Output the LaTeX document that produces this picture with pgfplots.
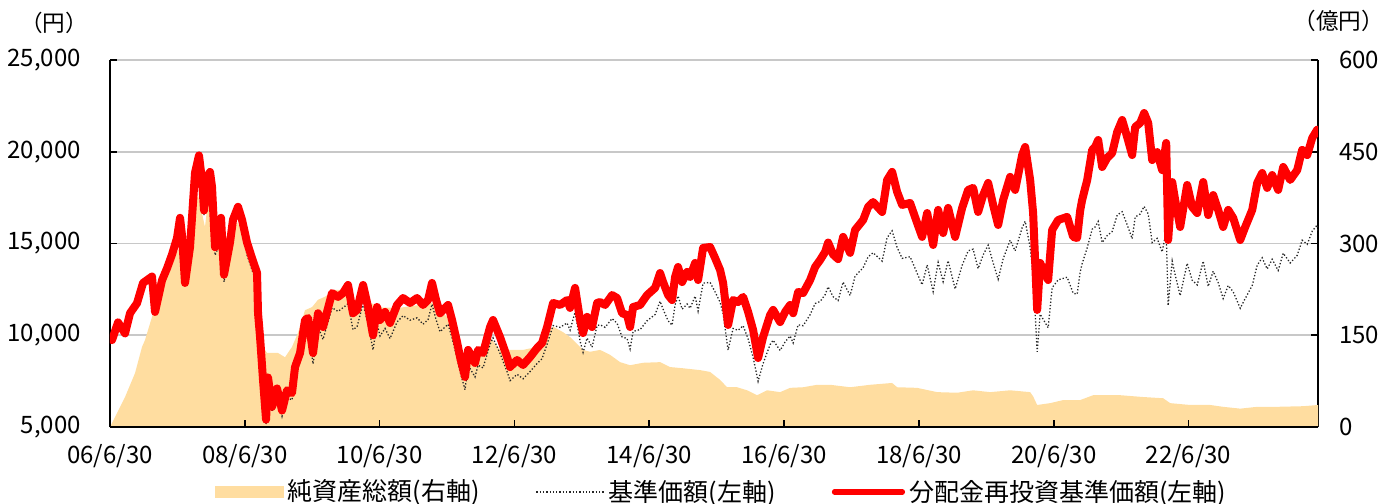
\documentclass[border=0pt]{standalone}
\usepackage{fontspec}
\setmainfont{Noto Sans CJK JP}
\usepackage{pgfplots}
\usepackage{pgfplotstable}
\pgfplotsset{compat=1.18}
\definecolor{navfill}{RGB}{255,221,160}
\definecolor{navred}{RGB}{255,0,0}
\definecolor{gridgray}{RGB}{200,200,200}

\pgfplotstableread{
x red base
2006.500 10000 10000
2006.530 9740 9740
2006.619 10700 10700
2006.723 10100 10100
2006.797 11200 11200
2006.901 11750 11750
2006.990 12850 12850
2007.123 13200 13130
2007.168 11270 11210
2007.272 13000 12940
2007.346 13650 13580
2007.420 14400 14330
2007.494 15300 15220
2007.539 16400 16150
2007.568 15450 15220
2007.613 12850 12660
2007.687 14800 14580
2007.731 17200 16940
2007.761 18850 18570
2007.820 19800 19500
2007.865 18450 18170
2007.895 16800 16550
2007.939 18600 18320
2007.984 18900 18620
2008.013 18100 17560
2008.058 14800 14360
2008.102 15200 14740
2008.147 16400 15910
2008.191 13300 12900
2008.280 15050 14600
2008.325 16300 15810
2008.399 17000 16490
2008.458 16300 15810
2008.533 15050 14370
2008.607 14200 13560
2008.681 13400 12800
2008.696 11200 10700
2008.726 9900 9450
2008.770 7560 7220
2008.815 5400 5150
2008.844 7700 7350
2008.904 6100 5830
2008.978 7100 6780
2009.052 5900 5580
2009.126 7000 6620
2009.200 6850 6470
2009.245 8270 7820
2009.319 9030 8530
2009.393 10830 10230
2009.438 10940 10340
2009.512 9030 8440
2009.586 11200 10470
2009.660 10450 9770
2009.794 12300 11500
2009.883 12090 11300
2009.957 12300 11500
2010.031 12740 11720
2010.105 11200 10300
2010.165 11380 10470
2010.254 12740 11720
2010.328 11540 10620
2010.402 10000 9200
2010.461 11540 10620
2010.506 10830 9960
2010.580 11270 10370
2010.654 10670 9820
2010.758 11650 10720
2010.847 12030 11070
2010.951 11760 10820
2011.055 12030 10950
2011.144 11650 10600
2011.218 11920 10850
2011.277 12850 11690
2011.337 11920 10850
2011.396 11200 10190
2011.515 11650 10600
2011.574 10830 9860
2011.648 9630 8760
2011.693 8810 8020
2011.767 7730 7030
2011.812 9200 8370
2011.915 8490 7730
2011.960 9200 8370
2012.034 9030 8220
2012.138 10450 9510
2012.182 10830 9860
2012.286 9900 9010
2012.390 8810 8020
2012.435 8270 7530
2012.539 8650 7870
2012.628 8380 7630
2012.731 8810 8020
2012.835 9300 8460
2012.909 9580 8720
2012.984 10450 9510
2013.073 11760 10530
2013.177 11650 10430
2013.280 11920 10670
2013.325 11490 10280
2013.399 12580 11260
2013.473 10830 9690
2013.518 10120 9060
2013.577 11000 9850
2013.651 10450 9350
2013.726 11760 10530
2013.770 11810 10570
2013.844 11650 10430
2013.948 12190 10910
2014.022 12030 10650
2014.096 11200 9910
2014.171 11100 9820
2014.215 10450 9250
2014.260 11540 10210
2014.364 11650 10310
2014.467 12190 10790
2014.586 12580 11130
2014.660 13390 11850
2014.705 12900 11420
2014.779 12190 10790
2014.838 11920 10550
2014.883 13180 11660
2014.927 13720 12140
2014.987 12900 11420
2015.061 13450 11700
2015.105 13180 11470
2015.180 13940 12130
2015.224 13010 11320
2015.298 14760 12840
2015.402 14810 12880
2015.476 14210 12360
2015.550 13560 11800
2015.595 12850 11180
2015.669 10560 9190
2015.743 11920 10370
2015.818 11810 10270
2015.892 12090 10520
2015.966 11270 9800
2016.040 10290 8800
2016.114 8760 7490
2016.188 9900 8460
2016.292 11100 9490
2016.337 11380 9730
2016.441 10720 9170
2016.515 11270 9640
2016.589 11650 9960
2016.634 11200 9580
2016.708 12360 10570
2016.782 12300 10520
2016.886 13010 11120
2016.960 13720 11730
2017.034 14100 11840
2017.108 14540 12210
2017.153 15050 12640
2017.227 14400 12100
2017.301 14150 11890
2017.375 15360 12900
2017.479 14490 12170
2017.553 15740 13220
2017.672 16280 13680
2017.746 16990 14270
2017.820 17260 14500
2017.954 16720 14040
2018.028 18460 15320
2018.102 18900 15690
2018.177 17810 14780
2018.251 17100 14190
2018.369 17210 14280
2018.473 16120 13380
2018.547 15360 12750
2018.622 16660 13830
2018.711 14920 12380
2018.785 16830 13970
2018.859 15570 12920
2018.933 16940 14060
2019.037 15360 12520
2019.141 16940 13810
2019.230 17920 14600
2019.304 18030 14690
2019.378 16720 13630
2019.453 17640 14380
2019.527 18300 14910
2019.601 17100 13940
2019.675 16010 13050
2019.749 17370 14160
2019.853 18630 15180
2019.927 17920 14600
2020.031 19820 15860
2020.076 20260 16210
2020.150 18460 14770
2020.194 16660 13330
2020.254 11380 9100
2020.298 13940 11150
2020.417 13010 10410
2020.476 15740 12590
2020.565 16280 13020
2020.699 16450 13160
2020.788 15360 12290
2020.847 15300 12240
2020.892 16800 13440
2020.921 17370 13900
2020.996 18460 14770
2021.070 20100 15780
2021.114 20260 15900
2021.159 20640 16200
2021.218 19170 15050
2021.292 19660 15430
2021.366 19930 15650
2021.441 21080 16550
2021.515 21730 16730
2021.589 20800 16020
2021.663 19820 15260
2021.708 21350 16440
2021.782 21570 16610
2021.841 22110 17020
2021.901 21570 16610
2021.960 19550 15050
2022.034 19980 15280
2022.108 19000 14540
2022.168 20480 15670
2022.197 15190 11620
2022.257 18350 14040
2022.301 17370 13290
2022.375 15900 12160
2022.479 18190 13920
2022.553 16990 13000
2022.628 16660 12740
2022.717 18350 14040
2022.791 16550 12660
2022.865 17640 13490
2022.939 16830 12870
2023.013 15900 12000
2023.088 16830 12710
2023.162 16390 12370
2023.266 15190 11470
2023.340 15900 12000
2023.444 16830 12710
2023.518 18300 13820
2023.592 18840 14220
2023.666 18030 13610
2023.740 18730 14140
2023.829 17920 13530
2023.904 19170 14470
2024.007 18460 13940
2024.111 19000 14350
2024.185 20100 15180
2024.260 19820 14960
2024.334 20750 15670
2024.408 21200 16010
2024.420 20800 15700
}\navtable

\pgfplotstableread{
x assets
2006.500 0
2006.574 16
2006.723 49
2006.871 88
2006.975 131
2007.019 142
2007.123 180
2007.212 213
2007.316 240
2007.420 268
2007.509 289
2007.613 301
2007.657 306
2007.731 360
2007.806 379
2007.909 327
2007.954 371
2008.013 343
2008.058 289
2008.132 306
2008.206 257
2008.280 294
2008.384 335
2008.458 322
2008.533 289
2008.607 262
2008.681 213
2008.726 154
2008.770 131
2008.829 121
2008.904 121
2008.993 121
2009.096 114
2009.200 131
2009.289 154
2009.393 191
2009.497 196
2009.586 208
2009.690 213
2009.838 224
2009.987 224
2010.105 213
2010.165 186
2010.358 203
2010.550 195
2010.803 195
2011.055 199
2011.277 203
2011.500 180
2011.589 147
2011.737 110
2011.945 105
2012.138 147
2012.286 126
2012.435 126
2012.628 126
2012.835 131
2012.984 154
2013.073 164
2013.221 155
2013.325 147
2013.518 126
2013.622 123
2013.770 126
2013.918 118
2014.067 106
2014.215 101
2014.408 105
2014.660 106
2014.809 98
2015.001 96
2015.254 93
2015.402 90
2015.550 77
2015.654 65
2015.803 65
2015.951 60
2016.099 52
2016.248 60
2016.441 57
2016.589 64
2016.782 65
2016.990 69
2017.182 69
2017.479 65
2017.776 69
2018.102 72
2018.177 65
2018.473 64
2018.770 57
2019.067 56
2019.304 60
2019.556 57
2019.853 60
2020.150 57
2020.194 50
2020.254 36
2020.447 39
2020.639 44
2020.892 44
2021.085 52
2021.485 52
2021.826 49
2022.123 47
2022.227 39
2022.524 36
2022.820 36
2023.013 33
2023.266 30
2023.518 33
2023.815 33
2024.200 34
2024.423 36
}\assettable

\pgfplotsset{
  commonaxis/.style={
    scale only axis, width=604pt, height=183.5pt,
    at={(55pt,38pt)}, anchor=south west,
    xmin=2006.5, xmax=2024.42,
    tick align=inside, major tick length=3.5pt,
    every tick/.style={black, line width=0.8pt},
    axis line style={-, black, line width=0.8pt},
    tick label style={font=\fontsize{12}{14}\selectfont},
    /pgf/number format/assume math mode=true,
    scaled ticks=false,
  }
}

\begin{document}
\begin{tikzpicture}
\useasboundingbox (0pt,0pt) rectangle (695.5pt,251.5pt);
% right axis: net assets (area) and grid
\begin{axis}[commonaxis,
  hide x axis,
  axis y line*=right,
  ymin=0, ymax=600,
  ytick={0,150,300,450,600},
  yticklabels={0,150,300,450,600},
  yticklabel style={xshift=7pt},
  ymajorgrids,
  grid style={gridgray, line width=0.8pt},
]
\addplot[fill=navfill, draw=none] table[x=x, y=assets] {\assettable} \closedcycle;
\end{axis}
% left axis: NAV lines
\begin{axis}[commonaxis,
  axis x line*=bottom,
  axis y line*=left,
  ymin=5000, ymax=25000,
  ytick={5000,10000,15000,20000,25000},
  yticklabels={{5,000},{10,000},{15,000},{20,000},{25,000}},
  yticklabel style={xshift=-11pt},
  xtick={2006.5,2008.5,2010.5,2012.5,2014.5,2016.5,2018.5,2020.5,2022.5},
  xticklabels={06/6/30,08/6/30,10/6/30,12/6/30,14/6/30,16/6/30,18/6/30,20/6/30,22/6/30},
  xticklabel style={yshift=-5pt},
  legend columns=3,
  legend cell align=left,
  legend style={at={(0.507,-0.177)}, anchor=center, draw=none, fill=none,
    font=\fontsize{12.5}{14}\selectfont,
    /tikz/every even column/.append style={column sep=26pt}},
  legend image code/.code={\draw[#1] (0pt,0pt) -- (34pt,0pt);},
]
\addlegendimage{legend image code/.code={\fill[navfill] (0pt,-2.8pt) rectangle (34pt,2.8pt);}}
\addlegendentry{純資産総額(右軸)}
\addplot[black!85, line width=0.65pt, densely dotted] table[x=x, y=base] {\navtable};
\addlegendentry{基準価額(左軸)}
\addplot[navred, line width=4pt, line join=round,
  legend image code/.code={\draw[navred, line width=2.6pt, line cap=round] (0pt,0pt) -- (34pt,0pt);}]
  table[x=x, y=red] {\navtable};
\addlegendentry{分配金再投資基準価額(左軸)}
\end{axis}
\node[font=\fontsize{11.3}{13}\selectfont] at (27pt,240pt) {（円）};
\node[font=\fontsize{11.3}{13}\selectfont, anchor=east] at (695.5pt,241pt) {（億円）};
\end{tikzpicture}
\end{document}
